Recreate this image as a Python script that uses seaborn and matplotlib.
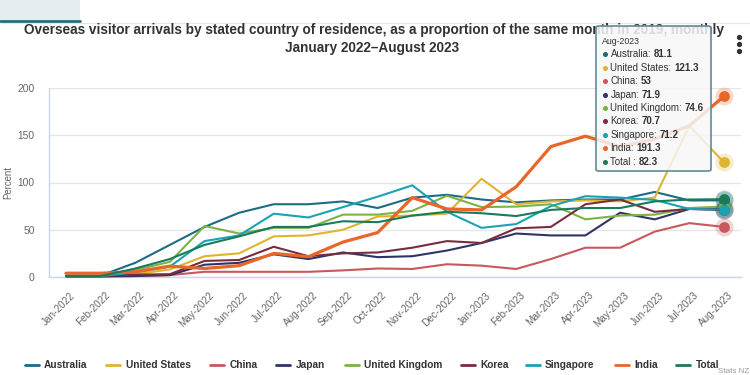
import numpy as np
import pandas as pd
import matplotlib
matplotlib.use("Agg")
import matplotlib.pyplot as plt
import seaborn as sns
from matplotlib.lines import Line2D
from matplotlib.patches import FancyBboxPatch, Rectangle
from matplotlib.transforms import ScaledTranslation

# ---------------- data ----------------
months = ["Jan-2022", "Feb-2022", "Mar-2022", "Apr-2022", "May-2022", "Jun-2022",
          "Jul-2022", "Aug-2022", "Sep-2022", "Oct-2022", "Nov-2022", "Dec-2022",
          "Jan-2023", "Feb-2023", "Mar-2023", "Apr-2023", "May-2023", "Jun-2023",
          "Jul-2023", "Aug-2023"]
countries = ["Australia", "United States", "China", "Japan", "United Kingdom",
             "Korea", "Singapore", "India", "Total"]
australia = [1.5, 1.5, 15, 34, 53, 68, 77, 77, 80, 73, 84, 87, 82, 79, 81, 82, 82, 90, 81, 81.1]
united_states = [1, 1, 3, 8, 22, 25, 43, 44, 50, 64, 65, 67, 104, 77, 80, 81, 80, 84, 160, 121.3]
china = [1, 1, 1.5, 2, 5.5, 5.5, 5.5, 5.5, 7, 9, 8.5, 13.5, 12, 8.5, 19, 31, 31, 48, 57, 53]
japan = [0.5, 0.5, 1, 2, 13, 15, 24, 19, 26, 21, 22, 28, 36, 46, 44, 44, 68, 61, 72, 71.9]
united_kingdom = [1, 1, 7.5, 16, 54, 46, 52, 52, 66, 66, 70, 86, 74, 74.5, 77, 61, 65, 66, 73, 74.6]
korea = [1, 1, 2.5, 3, 17, 18, 32, 22, 25, 26, 31, 38, 36, 51.5, 53, 77, 82, 69, 72, 70.7]
singapore = [1, 1, 5, 11, 38, 44, 67, 63, 74, 85, 97, 69, 52, 56, 75, 85.5, 84, 81.5, 72, 71.2]
india = [4, 4, 5.5, 11.5, 9, 12, 25, 21.5, 37, 47, 84, 72, 71, 95.5, 138, 149, 138, 146, 160, 191.3]
total = [1, 1, 9, 19, 34, 43, 53, 53, 59, 58, 65, 69, 67.5, 64.5, 71, 73, 73, 80, 82, 82.3]
yticks = [0, 50, 100, 150, 200]

series = [australia, united_states, china, japan, united_kingdom, korea, singapore, india, total]
colors = ["#1f6a85", "#dfb42f", "#c9575e", "#2e3466", "#7bb443",
          "#7a2c3f", "#1aa2b5", "#e8662a", "#1b7a5c"]
widths = [1.5, 1.5, 1.5, 1.5, 1.5, 1.5, 1.5, 2.3, 1.5]

df = pd.DataFrame({
    "idx": np.tile(np.arange(len(months)), len(countries)),
    "month": months * len(countries),
    "country": np.repeat(countries, len(months)),
    "value": np.concatenate([np.array(s, dtype=float) for s in series]),
})

# ---------------- style ----------------
sns.set_theme(style="white")
plt.rcParams["font.family"] = ["Liberation Sans", "DejaVu Sans"]

W, H = 750, 375
fig = plt.figure(figsize=(7.5, 3.75), dpi=100)
fig.patch.set_facecolor("white")

def fx(px):
    return px / W

def fy(py):
    return 1 - py / H

ax_left, ax_right, ax_top, ax_bot = 48.7, 741.3, 88, 277
ax = fig.add_axes([fx(ax_left), fy(ax_bot), (ax_right - ax_left) / W, (ax_bot - ax_top) / H])

for c, col, lw in zip(countries, colors, widths):
    sns.lineplot(data=df[df["country"] == c], x="idx", y="value", color=col,
                 linewidth=lw, ax=ax, legend=False, clip_on=False, zorder=3)

# hover markers at last point
last_i = len(months) - 1
for c, col in zip(countries, colors):
    v = df[(df["country"] == c) & (df["idx"] == last_i)]["value"].iloc[0]
    ax.scatter([last_i], [v], s=170, color=col, alpha=0.25, linewidths=0, zorder=5, clip_on=False)
    ax.scatter([last_i], [v], s=60, color=col, linewidths=0, zorder=6, clip_on=False)

ax.set_xlim(-0.5, len(months) - 0.5)
ax.set_ylim(0, 200)
ax.set_yticks(yticks)
ax.set_yticklabels([str(t) for t in yticks])
ax.set_xticks(range(len(months)))
ax.set_xticklabels(months)
ax.set_xlabel("")
ax.set_ylabel("")
ax.grid(axis="y", color="#e6e6e6", linewidth=1)
ax.grid(axis="x", visible=False)
ax.set_axisbelow(True)
for s in ["top", "right"]:
    ax.spines[s].set_visible(False)
for s in ["left", "bottom"]:
    ax.spines[s].set_color("#ccd6eb")
    ax.spines[s].set_linewidth(1)
ax.tick_params(axis="y", length=0, pad=10, labelsize=7.4, labelcolor="#666666")
ax.tick_params(axis="x", length=5, width=1, color="#ccd6eb", pad=4.5,
               labelsize=7.2, labelcolor="#666666")
for lab in ax.get_xticklabels():
    lab.set_rotation(45)
    lab.set_ha("right")
    lab.set_va("top")
    lab.set_rotation_mode("anchor")
    lab.set_transform(lab.get_transform() + ScaledTranslation(4 / 100, 0, fig.dpi_scale_trans))

fig.text(fx(8), fy(182), "Percent", rotation=90, ha="center", va="center",
         fontsize=6.9, color="#666666")

# ---------------- header ----------------
fig.add_artist(Rectangle((0, fy(20)), fx(80), 20 / H, transform=fig.transFigure,
                         facecolor="#e5edf0", edgecolor="none", zorder=1))
fig.add_artist(Line2D([0, fx(80)], [fy(21), fy(21)], transform=fig.transFigure,
                      color="#2b6b7e", linewidth=2, zorder=2))
fig.add_artist(Line2D([0, 1], [fy(22.5), fy(22.5)], transform=fig.transFigure,
                      color="#e6e6e6", linewidth=0.8, zorder=1))

fig.text(fx(374), fy(30), "Overseas visitor arrivals by stated country of residence, as a proportion of the same month in 2019, monthly",
         ha="center", va="center", fontsize=9.85, fontweight="bold", color="#333333")
fig.text(fx(372), fy(48), "January 2022\u2013August 2023",
         ha="center", va="center", fontsize=9.85, fontweight="bold", color="#333333")

# kebab menu
fig.add_artist(Line2D([fx(739)] * 3, [fy(37), fy(44), fy(51)], transform=fig.transFigure,
                      linestyle="none", marker="o", markersize=2.8, color="#333333"))

# ---------------- legend ----------------
leg_pos = [(25, 44), (106, 126), (210, 230), (276, 296), (345, 364),
           (461, 480), (526, 545), (615, 634), (676, 696)]
ly = 365
for (lx, tx), c, col in zip(leg_pos, countries, colors):
    fig.add_artist(Line2D([fx(lx), fx(lx + 14)], [fy(ly), fy(ly)], transform=fig.transFigure,
                          color=col, linewidth=2))
    fig.text(fx(tx), fy(ly), c, ha="left", va="center", fontsize=7.3,
             fontweight="bold", color="#333333")
fig.text(fx(749), fy(371.5), "Stats NZ", ha="right", va="center", fontsize=5.8, color="#999999")

# ---------------- tooltip ----------------
tb = FancyBboxPatch((fx(596), fy(171)), fx(115), 145 / H,
                    boxstyle="round,pad=0,rounding_size=0.004",
                    transform=fig.transFigure, facecolor="#f7f7f7", alpha=0.85,
                    edgecolor="none", zorder=20)
fig.add_artist(tb)
tb2 = FancyBboxPatch((fx(596), fy(171)), fx(115), 145 / H,
                     boxstyle="round,pad=0,rounding_size=0.004",
                     transform=fig.transFigure, facecolor="none",
                     edgecolor="#5b8f9c", linewidth=1.2, zorder=21)
fig.add_artist(tb2)
fig.text(fx(602), fy(41.5), months[-1], ha="left", va="center", fontsize=6.3,
         color="#333333", zorder=22)
renderer = fig.canvas.get_renderer()
row_y0, row_dy = 54.3, 13.42
for k, (c, col, s) in enumerate(zip(countries, colors, series)):
    yy = row_y0 + k * row_dy
    fig.add_artist(Line2D([fx(605)], [fy(yy)], transform=fig.transFigure, linestyle="none",
                          marker="o", markersize=2.6, color=col, zorder=22))
    name = "Total :" if c == "Total" else c + ":"
    t = fig.text(fx(610.5), fy(yy), name, ha="left", va="center", fontsize=7.0,
                 color="#333333", zorder=22)
    bb = t.get_window_extent(renderer)
    fig.text((bb.x1 + 2.6) / W, fy(yy), f"{s[-1]:g}", ha="left", va="center",
             fontsize=7.0, fontweight="bold", color="#333333", zorder=22)

fig.savefig("out.png", dpi=100)
